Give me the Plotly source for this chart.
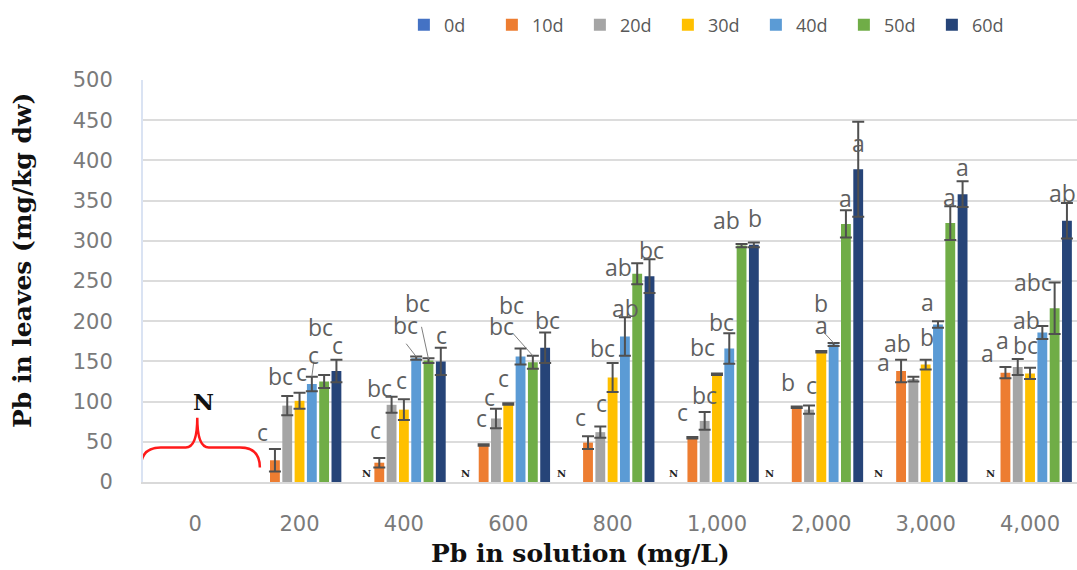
import plotly.graph_objects as go

categories = ["0", "200", "400", "600", "800", "1,000", "2,000", "3,000", "4,000"]
series_names = ["0d", "10d", "20d", "30d", "40d", "50d", "60d"]
colors = ["#4472C4", "#ED7D31", "#A5A5A5", "#FFC000", "#5B9BD5", "#70AD47", "#264478"]

N = None
d0 = [N, N, N, N, N, N, N, N, N]
d10 = [N, 27, 24, 46, 49, 55, 93, 138, 136]
d20 = [N, 95, 96, 79, 62, 76, 90, 128, 143]
d30 = [N, 101, 90, 97, 130, 134, 162, 146, 135]
d40 = [N, 122, 154, 156, 181, 166, 171, 196, 186]
d50 = [N, 125, 151, 149, 259, 294, 321, 322, 216]
d60 = [N, 138, 150, 167, 256, 295, 389, 358, 325]

e0 = [0] * 9
e10 = [0, 14, 6, 1, 8, 1, 1, 14, 7]
e20 = [0, 12, 10, 12, 7, 11, 5, 3, 10]
e30 = [0, 10, 13, 1, 18, 1, 1, 6, 7]
e40 = [0, 9, 2, 10, 24, 19, 2, 4, 8]
e50 = [0, 8, 3, 8, 13, 2, 17, 21, 32]
e60 = [0, 14, 17, 19, 21, 3, 59, 16, 22]

values = [d0, d10, d20, d30, d40, d50, d60]
errors = [e0, e10, e20, e30, e40, e50, e60]

# significance letters: (category index, series index, text)
letters = [
    (1, 1, "c"), (1, 2, "bc"), (1, 3, "c"), (1, 4, "c"), (1, 5, "bc"), (1, 6, "c"),
    (2, 1, "c"), (2, 2, "bc"), (2, 3, "c"), (2, 4, "bc"), (2, 5, "bc"), (2, 6, "c"),
    (3, 1, "c"), (3, 2, "c"), (3, 3, "c"), (3, 4, "bc"), (3, 5, "bc"), (3, 6, "bc"),
    (4, 1, "c"), (4, 2, "c"), (4, 3, "bc"), (4, 4, "ab"), (4, 5, "ab"), (4, 6, "bc"),
    (5, 1, "c"), (5, 2, "bc"), (5, 3, "bc"), (5, 4, "bc"), (5, 5, "ab"), (5, 6, "b"),
    (6, 1, "b"), (6, 2, "c"), (6, 3, "b"), (6, 4, "a"), (6, 5, "a"), (6, 6, "a"),
    (7, 1, "a"), (7, 2, "ab"), (7, 3, "b"), (7, 4, "a"), (7, 5, "a"), (7, 6, "a"),
    (8, 1, "a"), (8, 2, "a"), (8, 3, "bc"), (8, 4, "ab"), (8, 5, "abc"), (8, 6, "ab"),
]
# label placement style: (x shift px from bar centre, label centre height in axis units)
letter_pos = [
    (-12, 62), (-7, 132), (2, 137), (2, 158), (-4, 193), (1, 170),
    (-4, 65), (-12, 117), (-2, 127), (-11, 195), (-11, 223), (1, 183),
    (-2, 80), (-6, 106), (-5, 129), (-9, 220), (-31, 194), (2, 201),
    (-8, 81), (1, 98), (-10, 167), (1, 216), (-19, 267), (2, 289),
    (-10, 87), (0, 108), (-14, 168), (-8, 199), (-15, 326), (1, 328),
    (-9, 124), (2, 121), (0, 223), (-12, 195), (0, 353), (0, 422),
    (-18, 149), (-16, 173), (1, 180), (-10, 224), (-1, 354), (0, 392),
    (-18, 160), (-15, 177), (-5, 170), (-16, 201), (-22, 249), (-4, 359),
]
# "N" (not detected) markers: category index and pixel shift
nd_cats = [2, 3, 4, 5, 6, 7, 8]
nd_shift = [-37, -43, -51, -43, -52, -47, -40]

BARGAP = 0.175
NSER = 7
slot = (1 - BARGAP) / NSER

fig = go.Figure()
for name, col, v, e in zip(series_names, colors, values, errors):
    fig.add_trace(go.Bar(
        x=list(range(len(categories))), y=v, name=name,
        marker=dict(color=col, line=dict(width=0)),
        error_y=dict(type="data", array=e, visible=True, color="#505050",
                     thickness=2, width=6),
    ))

ann = []
label_font = dict(family="Open Sans", size=23, color="#5f5f5f")
for (c, k, t), (dx, yv) in zip(letters, letter_pos):
    xc = c + (k - (NSER - 1) / 2) * slot
    ann.append(dict(x=xc, y=yv, text=t, showarrow=False, xshift=dx,
                    font=label_font, xanchor="center", yanchor="middle"))

for c, s in zip(nd_cats, nd_shift):
    ann.append(dict(x=c, y=10, text="<b>N</b>", showarrow=False, xshift=s,
                    font=dict(family="DejaVu Serif", size=10, color="#222222"),
                    xanchor="center", yanchor="middle"))

ann.append(dict(x=0, y=100, text="<b>N</b>", showarrow=False, xshift=8,
                font=dict(family="DejaVu Serif", size=23, color="#111111"),
                xanchor="center", yanchor="middle"))

# axis titles
ann.append(dict(x=-0.1296, y=0.552, xref="paper", yref="paper", textangle=-90,
                text="<b>Pb in leaves (mg/kg dw)</b>", showarrow=False,
                xanchor="center", yanchor="middle",
                font=dict(family="DejaVu Serif", size=25, color="#111111")))
ann.append(dict(x=0.468, y=-0.177, xref="paper", yref="paper",
                text="<b>Pb in solution (mg/L)</b>", showarrow=False,
                xanchor="center", yanchor="middle",
                font=dict(family="DejaVu Serif", size=25, color="#111111")))

shapes = [dict(
    type="path", xref="x", yref="y",
    path="M -0.52,18 Q -0.52,43 -0.33,43 L -0.09,43 Q 0.02,43 0.02,80 "
         "Q 0.02,43 0.13,43 L 0.43,43 Q 0.62,43 0.62,18",
    line=dict(color="#ff1a1a", width=2.5),
)]

# leader lines from letters to bars
def leader(c, k, x0px, y0, y1):
    xc = c + (k - (NSER - 1) / 2) * slot
    return dict(type="line", xref="x", yref="y", x0=xc + x0px / 104.4, y0=y0,
                x1=xc, y1=y1, line=dict(color="#7f7f7f", width=1))

shapes += [
    leader(2, 4, -10, 172, 156),
    leader(2, 5, -7, 193, 153),
    leader(3, 5, -20, 185, 157),
    leader(6, 4, -9, 185, 173),
    leader(1, 4, 2, 150, 131),
]

fig.update_layout(
    width=1077, height=570,
    margin=dict(l=143, r=0, t=80, b=88),
    paper_bgcolor="white", plot_bgcolor="white",
    barmode="group", bargap=BARGAP, bargroupgap=0.2,
    showlegend=True,
    legend=dict(orientation="h", x=0.375, xanchor="left", y=0.956, yanchor="middle",
                yref="container", xref="container", entrywidth=43, itemwidth=30,
                font=dict(family="Open Sans", size=18, color="#595959")),
    annotations=ann, shapes=shapes,
    xaxis=dict(range=[-0.5, 8.45], tickmode="array",
               tickvals=list(range(len(categories))), ticktext=categories,
               showgrid=False, showline=True, linecolor="#d9d9d9", linewidth=2,
               ticks="", ticklabelstandoff=22,
               tickfont=dict(family="DejaVu Sans", size=21, color="#7a7a7a")),
    yaxis=dict(range=[0, 500], dtick=50, showgrid=True, gridcolor="#dcdcdc", gridwidth=2,
               zeroline=False, showline=True, linecolor="#dae3f3", linewidth=2,
               ticks="", ticklabelstandoff=24,
               tickfont=dict(family="DejaVu Sans", size=21, color="#7a7a7a")),
)

fig.write_html("out.html")
